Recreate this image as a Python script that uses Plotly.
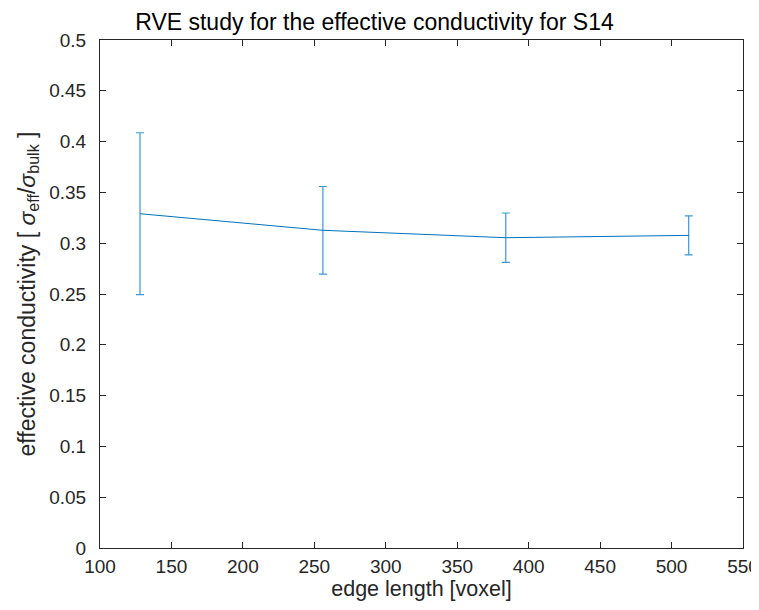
import plotly.graph_objects as go

# RVE edge lengths and mean effective conductivity with its spread
edge_length = [128, 256, 384, 512]
conductivity = [0.329, 0.3127, 0.3054, 0.3077]
conductivity_err = [0.0797, 0.0431, 0.0243, 0.0192]

x_ticks = [100, 150, 200, 250, 300, 350, 400, 450, 500, 550]
y_ticks = [0, 0.05, 0.1, 0.15, 0.2, 0.25, 0.3, 0.35, 0.4, 0.45, 0.5]

line_color = '#0072BD'
axis_color = '#262626'

fig = go.Figure()

fig.add_trace(go.Scatter(
    x=edge_length,
    y=conductivity,
    mode='lines',
    line=dict(color=line_color, width=1),
    error_y=dict(
        type='data',
        array=conductivity_err,
        symmetric=True,
        color='#3d97d6',
        thickness=1.2,
        width=4
    ),
    showlegend=False
))

axis_style = dict(
    showline=True,
    linecolor=axis_color,
    linewidth=1,
    mirror='ticks',
    ticks='inside',
    ticklen=6,
    tickcolor=axis_color,
    tickwidth=1,
    showgrid=False,
    zeroline=False,
    automargin=False,
    tickfont=dict(size=19, color=axis_color),
)

fig.update_xaxes(
    range=[100, 550],
    tickvals=x_ticks,
    ticktext=[str(v) for v in x_ticks],
    ticklabelstandoff=1,
    title=dict(text='edge length [voxel]', font=dict(size=21.5, color=axis_color), standoff=0),
    **axis_style
)
fig.update_yaxes(
    range=[0, 0.5],
    tickvals=y_ticks,
    ticktext=[f'{v:g}' for v in y_ticks],
    ticklabelstandoff=9,
    title=dict(
        text='effective conductivity [ <i>σ</i><sub>eff</sub>/<i>σ</i><sub>bulk</sub> ]',
        font=dict(size=23, color=axis_color),
        standoff=7
    ),
    **axis_style
)

# the page body adds an 8px margin, so the figure is sized to fit the window
fig.update_layout(
    width=751,
    height=602,
    font=dict(family='Liberation Sans, Arial, sans-serif'),
    title=dict(
        text='RVE study for the effective conductivity for S14',
        xref='container', x=0.488, xanchor='center',
        yref='container', y=0.977, yanchor='middle',
        font=dict(size=23, color='black')
    ),
    margin=dict(l=92, r=16, t=32, b=62),
    plot_bgcolor='white',
    paper_bgcolor='white',
)

fig.write_html("out.html")
